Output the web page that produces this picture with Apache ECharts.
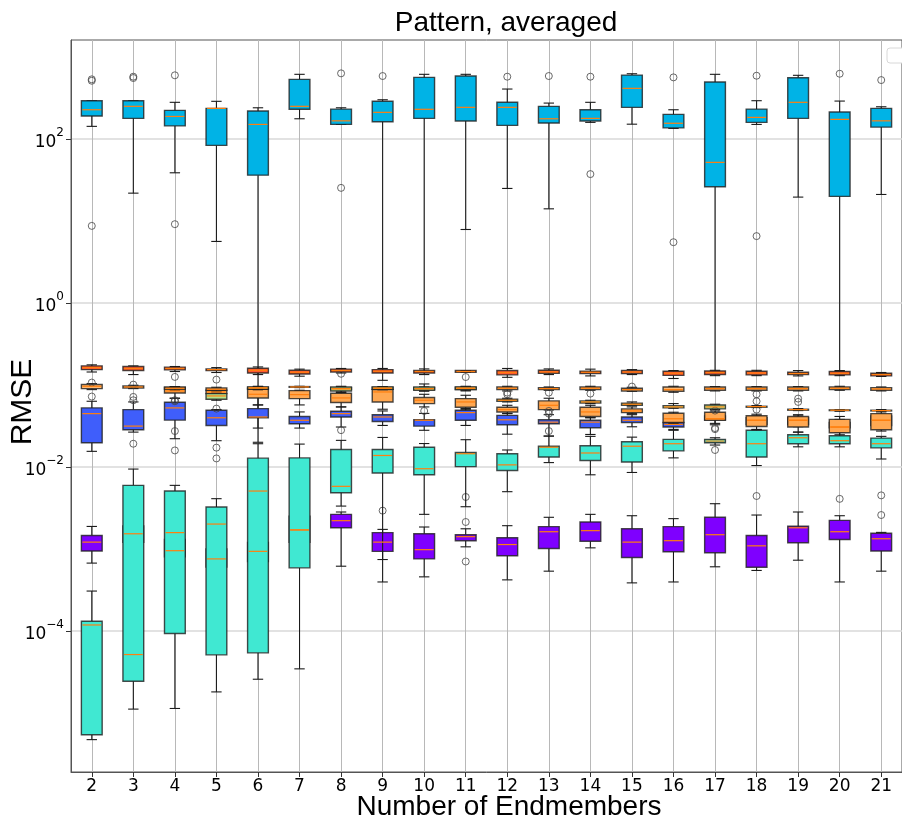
<!DOCTYPE html>
<html><head><meta charset="utf-8">
<script src="https://cdn.jsdelivr.net/npm/echarts@6/dist/echarts.min.js"></script>
<style>html,body{margin:0;padding:0;background:#fff}#c{width:902px;height:820px}</style>
</head><body><div id="c"></div><script>
// Categories (number of endmembers)
const categories = [2,3,4,5,6,7,8,9,10,11,12,13,14,15,16,17,18,19,20,21];
const xTickLabels = categories.map(String);
const yTickValues = [1e-4, 1e-2, 1, 100];
// box statistics per category: [min, q1, median, q3, max]
const lightBlue = [
 [143,191,228,294,294],[21.9,179,251,294,294],[38.8,145,189,224,281],[5.64,83.8,237,237,289],
 [0.02,36.3,151,220,241],[177,231,251,536,617],[151,151,167,232,241],[0.145,163,212,289,302],
 [0.145,179,231,566,617],[7.89,166,244,588,617],[25.0,147,244,281,408],[14.1,157,177,251,275],
 [160,166,179,228,281],[152,244,416,604,627],[135,137,156,200,228],[0.145,26.2,52,497,617],
 [151,160,184,232,294],[19.6,179,281,561,600],[0.145,20.0,174,214,291],[21.1,140,167,237,248]];
const lightBlueOut = [[2,536],[2,515],[2,8.73],[3,577],[3,556],[4,600],[4,9.16],[8,634],[8,25.4],[9,588],[12,577],[13,588],[14,577],[14,37.4],[16,566],[16,5.52],[18,593],[18,6.55],[20,627],[21,525]];

const purple = [
 [0.000671,0.000942,0.00121,0.00146,0.00188],[0.0009,0.0012,0.00153,0.0019,0.0025],[0.0006,0.0008,0.000951,0.0013,0.0018],[0.0005,0.0006,0.000755,0.0010,0.0015],
 [0.0005,0.0007,0.000934,0.0012,0.0017],[0.0008,0.0012,0.0017,0.0025,0.004],[0.000615,0.00181,0.00221,0.00264,0.00282],[0.000742,0.000934,0.00121,0.00158,0.00173],
 [0.000456,0.000755,0.000979,0.00153,0.00185],[0.00106,0.00126,0.00141,0.00149,0.00176],[0.000419,0.000824,0.00113,0.00137,0.00192],[0.000535,0.00101,0.00162,0.00187,0.00243],
 [0.00103,0.00124,0.00167,0.00213,0.00264],[0.000385,0.000785,0.00121,0.00176,0.00254],[0.000395,0.000924,0.00126,0.00187,0.00234],[0.000605,0.000899,0.00149,0.00243,0.00356],
 [0.000546,0.000598,0.00109,0.00146,0.00259],[0.000728,0.00119,0.00181,0.00189,0.00282],[0.000395,0.00130,0.00162,0.00223,0.00254],[0.000535,0.000942,0.00133,0.00155,0.00159]];
const purpleOut = [[9,0.00293],[11,0.0043],[11,0.00213],[11,0.000702],[18,0.00442],[20,0.00408],[21,0.0045],[21,0.00259]];

const turquoise = [
 [0.00000471,0.00000541,0.000118,0.000131,0.000306],[0.0000111,0.0000243,0.0000514,0.00596,0.00942],[0.0000113,0.0000927,0.00158,0.00508,0.00596],[0.0000180,0.0000510,0.00201,0.00324,0.00410],
 [0.0000257,0.0000539,0.00508,0.0128,0.0192],[0.0000344,0.000587,0.00171,0.0129,0.0190],[0.00333,0.00485,0.00580,0.0163,0.0211],[0.000395,0.00843,0.0138,0.0163,0.0229],
 [0.00264,0.00802,0.00951,0.0174,0.0193],[0.00327,0.0101,0.0145,0.0150,0.0215],[0.00499,0.00906,0.0106,0.0145,0.0161],[0.0113,0.0132,0.0174,0.0179,0.0238],
 [0.00802,0.0120,0.0148,0.0181,0.0236],[0.00856,0.0115,0.0179,0.0203,0.0231],[0.0129,0.0157,0.0192,0.0217,0.0280],[0.0185,0.0197,0.0207,0.0217,0.0227],
 [0.0104,0.0132,0.0192,0.0280,0.0287],[0.0176,0.0192,0.0227,0.0247,0.0266],[0.0176,0.0192,0.0209,0.0240,0.0266],[0.0125,0.0171,0.0192,0.0225,0.0236]];
const turquoiseOut = [[17,0.0161]];

const blue = [
 [0.0155,0.0197,0.0447,0.0525,0.0633],[0.0266,0.0284,0.0315,0.0501,0.0621],[0.0221,0.0373,0.0525,0.0616,0.0689],[0.0209,0.0321,0.0398,0.0492,0.0501],
 [0.0298,0.0398,0.0407,0.0515,0.0571],[0.0298,0.0336,0.0371,0.0413,0.0469],[0.0307,0.0407,0.0447,0.0478,0.0540],[0.0321,0.0359,0.0407,0.0434,0.0482],
 [0.0280,0.0315,0.0371,0.0376,0.0450],[0.0321,0.0371,0.0460,0.0492,0.0515],[0.0251,0.0327,0.0376,0.0426,0.0447],[0.0238,0.0336,0.0352,0.0376,0.0434],
 [0.0249,0.0301,0.0352,0.0371,0.0400],[0.0309,0.0349,0.0371,0.0407,0.0434],[0.0287,0.0307,0.0330,0.0349,0.0360],[0.0340,0.0375,0.0387,0.0420,0.0450],
 [0.0320,0.0330,0.0371,0.0400,0.0420],[0.0310,0.0330,0.0371,0.0400,0.0420],[0.0280,0.0300,0.0307,0.0350,0.0380],[0.0300,0.0320,0.0371,0.0420,0.0440]];
const blueOut = [[2,0.0722],[3,0.0715],[3,0.0651],[3,0.0192],[4,0.0159],[5,0.0515],[5,0.0172],[5,0.0127],[8,0.0281],[13,0.0274]];

const orange = [
 null,null,[0.0689,0.0799,0.0846,0.0938,0.0956],[0.0689,0.0785,0.0822,0.0862,0.0886],
 [0.0571,0.0695,0.0770,0.0895,0.0903],[0.0571,0.0682,0.0763,0.0854,0.0862],[0.0540,0.0610,0.0695,0.0792,0.0807],[0.0506,0.0621,0.0822,0.0878,0.0886],
 [0.0540,0.0593,0.0651,0.0702,0.0770],[0.0506,0.0535,0.0621,0.0682,0.0749],[0.0452,0.0469,0.0501,0.0535,0.0565],[0.0497,0.0501,0.0565,0.0639,0.0689],
 [0.0398,0.0413,0.0469,0.0535,0.0565],[0.0447,0.0460,0.0482,0.0511,0.0540],[0.0340,0.0349,0.0387,0.0452,0.0465],[0.0327,0.0371,0.0387,0.0465,0.0482],
 [0.0284,0.0312,0.0371,0.0422,0.0440],[0.0266,0.0307,0.0371,0.0413,0.0434],[0.0247,0.0261,0.0307,0.0380,0.0413],[0.0274,0.0284,0.0371,0.0447,0.0469]];
const orangeOut = [[10,0.0482],[13,0.0482],[13,0.0447],[17,0.0298],[17,0.0289]];

const peach = [
 [0.0878,0.0903,0.0964,0.1012,0.1039],[0.0903,0.0920,0.0946,0.0973,0.0992],[0.0862,0.0886,0.0912,0.0938,0.0956],[0.0838,0.0862,0.0886,0.0920,0.0938],
 [0.0878,0.0895,0.0920,0.0938,0.0956],[0.0929,0.0938,0.0946,0.0956,0.0964],[0.0846,0.0878,0.0903,0.0929,0.0946],[0.0878,0.0886,0.0912,0.0938,0.0946],
 [0.0862,0.0878,0.0903,0.0929,0.0946],[0.0862,0.0878,0.0912,0.0938,0.0946],[0.0846,0.0878,0.0912,0.0946,0.0964],[0.0862,0.0878,0.0903,0.0929,0.0946],
 [0.0862,0.0878,0.0912,0.0946,0.0964],[0.0838,0.0846,0.0878,0.0912,0.0938],[0.0815,0.0838,0.0878,0.0946,0.0964],[0.0846,0.0862,0.0903,0.0946,0.0956],
 [0.0846,0.0862,0.0903,0.0946,0.0956],[0.0846,0.0862,0.0903,0.0946,0.0956],[0.0862,0.0878,0.0912,0.0946,0.0964],[0.0846,0.0862,0.0895,0.0929,0.0946]];
const peachOut = [[2,0.1069],[3,0.101],[4,0.1254],[4,0.0651],[4,0.0633],[4,0.0274],[5,0.1163],[12,0.0807],[12,0.0770],[13,0.0807],[14,0.0785],[15,0.0956],[18,0.0770],[18,0.0633],[18,0.0501],[19,0.0682],[19,0.0621]];

const green = [
 null,null,null,[0.0651,0.0670,0.0735,0.0785,0.0799],
 [0.0878,0.0895,0.0920,0.0946,0.0964],null,[0.0815,0.0846,0.0895,0.0946,0.0964],[0.0878,0.0886,0.0912,0.0946,0.0956],
 [0.0838,0.0862,0.0903,0.0946,0.1029],[0.0846,0.0878,0.0912,0.0946,0.0964],[0.0621,0.0633,0.0651,0.0670,0.0689],null,
 [0.0593,0.0604,0.0621,0.0639,0.0651],[0.0560,0.0565,0.0582,0.0599,0.0621],[0.0520,0.0525,0.0540,0.0560,0.0593],[0.0501,0.0511,0.0540,0.0571,0.0582],
 [0.0530,0.0535,0.0545,0.0550,0.0560],[0.0487,0.0492,0.0501,0.0506,0.0515],[0.0478,0.0487,0.0492,0.0497,0.0501],[0.0478,0.0482,0.0487,0.0492,0.0501]];
const greenOut = [[17,0.0487]];

const red = [
 [0.144,0.154,0.163,0.171,0.176],[0.134,0.150,0.159,0.168,0.171],[0.146,0.153,0.159,0.165,0.168],[0.142,0.150,0.154,0.157,0.163],
 [0.134,0.140,0.151,0.160,0.166],[0.128,0.136,0.143,0.151,0.156],[0.140,0.144,0.150,0.156,0.159],[0.114,0.140,0.147,0.154,0.159],
 [0.134,0.140,0.146,0.150,0.157],[0.143,0.143,0.146,0.150,0.150],[0.124,0.133,0.142,0.150,0.159],[0.134,0.139,0.144,0.151,0.157],
 [0.129,0.138,0.143,0.147,0.156],[0.134,0.138,0.144,0.150,0.154],[0.120,0.131,0.139,0.147,0.150],[0.130,0.134,0.142,0.148,0.151],
 [0.130,0.133,0.140,0.147,0.151],[0.129,0.134,0.138,0.143,0.150],[0.130,0.133,0.139,0.146,0.150],[0.127,0.129,0.134,0.139,0.142]];
const redOut = [[8,0.137],[11,0.125]];

const groups = [
  {name:'g1', stats: lightBlue, out: lightBlueOut, color:'#00b3e6'},
  {name:'g2', stats: purple, out: purpleOut, color:'#7f00ff'},
  {name:'g3', stats: turquoise, out: turquoiseOut, color:'#40e8d2'},
  {name:'g4', stats: blue, out: blueOut, color:'#3f5efb'},
  {name:'g5', stats: orange, out: orangeOut, color:'#ffa852'},
  {name:'g6', stats: peach, out: peachOut, color:'#ffb870'},
  {name:'g7', stats: green, out: greenOut, color:'#b4e48e'},
  {name:'g8', stats: red, out: redOut, color:'#ff5a30'}
];

function boxRenderer(color) {
  return function (params, api) {
    const x = api.value(0);
    const mn = api.value(1), q1 = api.value(2), q3 = api.value(4), mx = api.value(5);
    const tl = api.coord([x - 0.25, q3]);
    const br = api.coord([x + 0.25, q1]);
    const cx = api.coord([x, q3])[0];
    const yMax = api.coord([x, mx])[1];
    const yMin = api.coord([x, mn])[1];
    const w = br[0] - tl[0];
    const cap = w / 4;
    const ls = {stroke: '#1a1a1a', lineWidth: 1.1};
    return {type: 'group', children: [
      {type: 'line', shape: {x1: cx, y1: tl[1], x2: cx, y2: yMax}, style: ls},
      {type: 'line', shape: {x1: cx, y1: br[1], x2: cx, y2: yMin}, style: ls},
      {type: 'line', shape: {x1: cx - cap, y1: yMax, x2: cx + cap, y2: yMax}, style: ls},
      {type: 'line', shape: {x1: cx - cap, y1: yMin, x2: cx + cap, y2: yMin}, style: ls},
      {type: 'rect', z2: 5, shape: {x: tl[0], y: tl[1], width: w, height: br[1] - tl[1]},
       style: {fill: color, stroke: 'rgba(30,30,30,0.8)', lineWidth: 1.4}}
    ]};
  };
}
function medianRenderer(params, api) {
  const x = api.value(0), md = api.value(1);
  const a = api.coord([x - 0.25, md]), b = api.coord([x + 0.25, md]);
  return {type: 'line', shape: {x1: a[0] + 1, y1: a[1], x2: b[0] - 1, y2: b[1]},
          style: {stroke: '#ff7f0e', lineWidth: 1.2}};
}

const series = [];
groups.forEach(function (g, gi) {
  const data = [];
  g.stats.forEach(function (s, i) { if (s) data.push([categories[i]].concat(s)); });
  series.push({type: 'custom', name: g.name, renderItem: boxRenderer(g.color), data: data,
    encode: {x: 0, y: [1, 2, 3, 4, 5]}, z: 10 + gi, clip: true, silent: true});
  series.push({type: 'scatter', name: g.name + 'o', data: g.out, symbol: 'circle', symbolSize: 7,
    itemStyle: {color: 'rgba(0,0,0,0)', borderColor: '#444', borderWidth: 1}, z: 10 + gi, silent: true});
});
groups.forEach(function (g) {
  const md = [];
  g.stats.forEach(function (s, i) { if (s) md.push([categories[i], s[2]]); });
  series.push({type: 'custom', name: g.name + 'm', renderItem: medianRenderer, data: md,
    encode: {x: 0, y: 1}, z: 40, clip: true, silent: true});
});

function supExp(v) {
  const e = Math.round(Math.log10(v));
  const s = e < 0 ? '\u2212' + (-e) : String(e);
  return '{b|10}{s|' + s + '}';
}

const chart = echarts.init(document.getElementById('c'), null, {renderer: 'canvas'});
chart.setOption({
  animation: false,
  backgroundColor: '#fff',
  grid: {left: 71, right: -5, top: 40, bottom: 48, show: true, borderColor: '#555', borderWidth: 1, backgroundColor: 'transparent'},
  xAxis: {
    type: 'value', min: 1.5, max: 21.5,
    axisLine: {show: true, lineStyle: {color: '#555', width: 1}},
    axisTick: {show: true, customValues: categories, length: 5, lineStyle: {color: '#333'}},
    axisLabel: {customValues: categories, formatter: function (v) { return xTickLabels[categories.indexOf(v)] || String(v); },
      fontFamily: 'DejaVu Sans', fontSize: 17, color: '#000', margin: 6},
    splitLine: {show: true, lineStyle: {color: '#b8b8b8', width: 1}}
  },
  yAxis: {
    type: 'log', logBase: 10, min: 1.897e-6, max: 1618,
    axisLine: {show: true, lineStyle: {color: '#555', width: 1}},
    axisTick: {show: true, customValues: yTickValues, length: 5, lineStyle: {color: '#333'}},
    axisLabel: {customValues: yTickValues, formatter: supExp, margin: 7,
      rich: {b: {fontFamily: 'DejaVu Sans', fontSize: 17, color: '#000', verticalAlign: 'bottom', lineHeight: 24},
             s: {fontFamily: 'DejaVu Sans', fontSize: 12, color: '#000', verticalAlign: 'top', lineHeight: 24}}},
    splitLine: {show: true, lineStyle: {color: '#d9d9d9', width: 1.5}}
  },
  graphic: [
    {type: 'text', style: {text: 'Pattern, averaged', font: '28px "Liberation Sans", Arial, sans-serif', fill: '#000', textAlign: 'center', textVerticalAlign: 'middle'}, x: 506, y: 23},
    {type: 'text', style: {text: 'Number of Endmembers', font: '28px "Liberation Sans", Arial, sans-serif', fill: '#000', textAlign: 'center', textVerticalAlign: 'middle'}, x: 509, y: 807},
    {type: 'text', style: {text: 'RMSE', font: '30px "Liberation Sans", Arial, sans-serif', fill: '#000', textAlign: 'center', textVerticalAlign: 'middle'}, x: 23, y: 402, rotation: Math.PI / 2},
    {type: 'rect', shape: {x: 887, y: 48, width: 22, height: 15, r: 3}, style: {fill: '#fff', stroke: '#d8d8d8', lineWidth: 1}}
  ],
  series: series
});
</script></body></html>
